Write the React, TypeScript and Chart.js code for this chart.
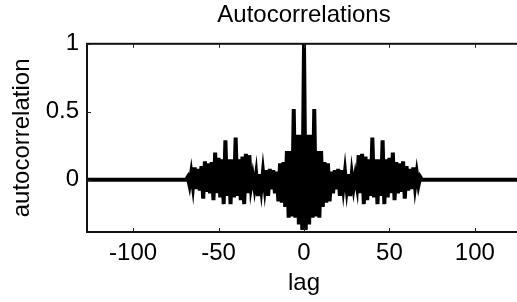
import React, { useEffect, useRef } from 'react';
import { Chart, registerables } from 'chart.js';

Chart.register(...registerables);

const TITLE = 'Autocorrelations';
const X_LABEL = 'lag';
const Y_LABEL = 'autocorrelation';
const X_TICKS = [-100, -50, 0, 50, 100];
const Y_TICKS = [0, 0.5, 1];
const MAX_LAG = 127;
const Y_MIN = -0.385;
const Y_MAX = 1;

// autocorrelation read at lags 0..68 (the curve is flat at 0 beyond lag 68; symmetric in lag)
const ACF_POS = [
  1.0, -0.37, 0.33, -0.33, 0.33, -0.28, 0.52, -0.27, 0.21, -0.28,
  0.21, -0.2, 0.13, -0.17, 0.12, -0.16, 0.06, -0.1, 0.07, -0.07,
  0.08, -0.12, 0.07, -0.06, 0.06, -0.07, 0.04, -0.12, 0.04, -0.06,
  0.03, -0.05, 0.18, -0.1, 0.19, -0.18, 0.17, -0.15, 0.15, -0.12,
  0.31, -0.13, 0.15, -0.18, 0.15, -0.12, 0.29, -0.18, 0.15, -0.13,
  0.16, -0.1, 0.2, -0.15, 0.13, -0.1, 0.12, -0.09, 0.135, -0.14,
  0.1, -0.08, 0.08, -0.07, 0.09, -0.05, 0.05, -0.04, 0.02,
];

const FONT_FAMILY = '"Liberation Sans", Arial, Helvetica, sans-serif';

function buildPoints() {
  const pts: { x: number; y: number }[] = [];
  for (let k = -MAX_LAG; k <= MAX_LAG; k++) {
    const a = Math.abs(k);
    pts.push({ x: k, y: a < ACF_POS.length ? ACF_POS[a] : 0 });
  }
  return pts;
}

const framePlugin = {
  id: 'matlabFrame',
  afterDatasetsDraw(chart: any) {
    const { ctx, chartArea, scales } = chart;
    const { left, right, top, bottom } = chartArea;
    ctx.save();
    ctx.strokeStyle = '#111';
    ctx.lineWidth = 2;
    ctx.strokeRect(left, top, right - left, bottom - top);
    ctx.lineWidth = 1;
    ctx.strokeStyle = '#222';
    const tl = 4;
    ctx.beginPath();
    X_TICKS.forEach((v) => {
      const px = Math.round(scales.x.getPixelForValue(v)) + 0.5;
      ctx.moveTo(px, bottom);
      ctx.lineTo(px, bottom - tl);
      ctx.moveTo(px, top);
      ctx.lineTo(px, top + tl);
    });
    Y_TICKS.forEach((v) => {
      const py = Math.round(scales.y.getPixelForValue(v)) + 0.5;
      ctx.moveTo(left, py);
      ctx.lineTo(left + tl, py);
      ctx.moveTo(right, py);
      ctx.lineTo(right - tl, py);
    });
    ctx.stroke();
    ctx.restore();
  },
};

export default function App() {
  const canvasRef = useRef<HTMLCanvasElement | null>(null);

  useEffect(() => {
    if (!canvasRef.current) return;
    const font = { family: FONT_FAMILY, size: 24, weight: 'normal' as const };
    const chart = new Chart(canvasRef.current, {
      type: 'line',
      data: {
        datasets: [
          {
            data: buildPoints(),
            borderColor: '#000',
            borderWidth: 4,
            pointRadius: 0,
            tension: 0,
            fill: false,
          },
        ],
      },
      options: {
        responsive: false,
        animation: false,
        devicePixelRatio: 1,
        layout: { padding: { left: 0, right: 1, top: 0, bottom: 0 } },
        plugins: {
          legend: { display: false },
          tooltip: { enabled: false },
          title: {
            display: true,
            text: TITLE,
            fullSize: false,
            color: '#000',
            font,
            padding: { top: 1, bottom: 14 },
          },
        },
        scales: {
          x: {
            type: 'linear',
            min: -MAX_LAG,
            max: MAX_LAG,
            grid: { display: false, drawTicks: false, tickLength: 0 },
            border: { display: false },
            ticks: {
              color: '#000',
              font,
              padding: 7,
              maxRotation: 0,
              autoSkip: false,
              includeBounds: false,
              callback: (v: any) => String(v),
            },
            afterBuildTicks: (s: any) => {
              s.ticks = X_TICKS.map((value) => ({ value }));
            },
            afterFit: (s: any) => {
              s.height = 70;
            },
            title: {
              display: true,
              text: X_LABEL,
              color: '#000',
              font,
              padding: { top: 0, bottom: 4 },
            },
          },
          y: {
            type: 'linear',
            min: Y_MIN,
            max: Y_MAX,
            grid: { display: false, drawTicks: false, tickLength: 0 },
            border: { display: false },
            ticks: {
              color: '#000',
              font,
              padding: 8,
              includeBounds: false,
              callback: (v: any) => String(v),
            },
            afterBuildTicks: (s: any) => {
              s.ticks = Y_TICKS.map((value) => ({ value }));
            },
            afterFit: (s: any) => {
              s.width = 87;
            },
            title: {
              display: true,
              text: Y_LABEL,
              color: '#000',
              font,
              padding: { top: 8, bottom: 0 },
            },
          },
        },
      },
      plugins: [framePlugin],
    });
    return () => chart.destroy();
  }, []);

  return (
    <div
      style={{
        position: 'fixed',
        left: 0,
        top: 0,
        width: 517,
        height: 302,
        overflow: 'hidden',
        background: '#fff',
      }}
    >
      <canvas ref={canvasRef} width={522} height={302} style={{ width: 522, height: 302, display: 'block' }} />
    </div>
  );
}
